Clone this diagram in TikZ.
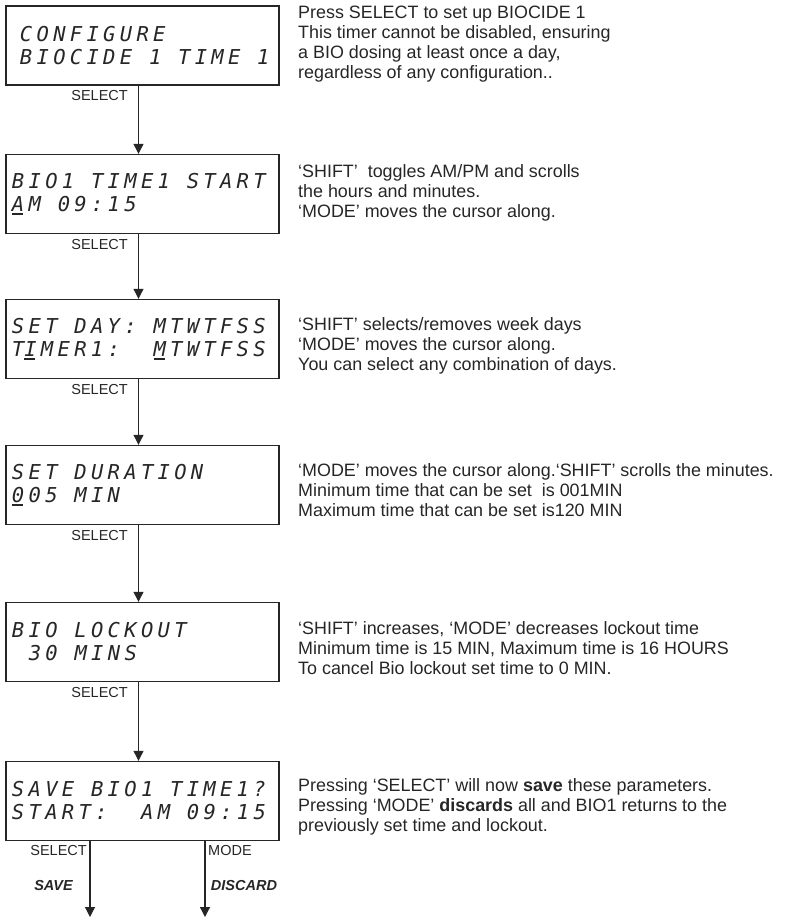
\documentclass[tikz,border=0pt]{standalone}
\usepackage{fontspec}
\setmainfont{Liberation Sans}
\newfontfamily\lcdfont[LetterSpace=21]{DejaVu Sans Mono}
\usetikzlibrary{arrows.meta}
\definecolor{ink}{HTML}{262626}
\newcommand{\lcdtype}{\lcdfont\itshape\fontsize{20.5}{23}\selectfont}
\newcommand{\lsp}{\hspace*{16.8pt}}
\newcommand{\lcdcur}[1]{\leavevmode\rlap{\rule[-3.5pt]{11pt}{1.6pt}}#1}

\begin{document}
\begin{tikzpicture}[x=1pt,y=-1pt,
  lcd/.style={shape=rectangle,draw=ink,line width=1.4pt,minimum width=273pt,minimum height=79pt,text width=261pt,inner xsep=6pt,align=left,text=ink,font=\lcdtype},
  note/.style={anchor=west,align=left,inner sep=0pt,text=ink,font=\fontsize{17.9}{20}\selectfont},
  key/.style={inner sep=1pt,text=ink,font=\fontsize{14.5}{16}\selectfont},
  act/.style={inner sep=1pt,text=ink,font=\fontsize{14.5}{16}\selectfont\bfseries\itshape},
  flow/.style={draw=ink,line width=1.2pt,-{Triangle[length=10pt,width=10pt]}}]
\useasboundingbox (0,0) rectangle (784,923);
% display boxes
\draw (142.5,45.5) node (lcd1) [lcd] {\hspace*{8pt}CONFIGURE\\\hspace*{8pt}BIOCIDE\lsp 1\lsp TIME\lsp 1};
\draw (142.5,194) node (lcd2) [lcd] {BIO1\lsp TIME1\lsp START\\\lcdcur{A}M\lsp 09:15};
\draw (142.5,339) node (lcd3) [lcd] {SET\lsp DAY:\lsp MTWTFSS\\T\lcdcur{I}MER1:\lsp\lsp\lcdcur{M}TWTFSS};
\draw (142.5,485) node (lcd4) [lcd] {SET\lsp DURATION\\\lcdcur{0}05\lsp MIN};
\draw (142.5,642) node (lcd5) [lcd] {BIO\lsp LOCKOUT\\\lsp 30\lsp MINS};
\draw (142.5,801) node (lcd6) [lcd] {SAVE\lsp BIO1\lsp TIME1?\\START:\lsp\lsp AM\lsp 09:15};
% notes
\draw (298,44) node (txt1) [note] {Press SELECT to set up BIOCIDE 1\\This timer cannot be disabled, ensuring\\a BIO dosing at least once a day,\\regardless of any configuration..};
\draw (298,193) node (txt2) [note] {`SHIFT'~~toggles AM/PM and scrolls\\the hours and minutes.\\`MODE' moves the cursor along.};
\draw (298,346) node (txt3) [note] {`SHIFT' selects/removes week days\\`MODE' moves the cursor along.\\You can select any combination of days.};
\draw (298,490) node (txt4) [note] {`MODE' moves the cursor along.`SHIFT' scrolls the minutes.\\Minimum time that can be set~~is 001MIN\\Maximum time that can be set is120 MIN};
\draw (298,648) node (txt5) [note] {`SHIFT' increases, `MODE' decreases lockout time\\Minimum time is 15 MIN, Maximum time is 16 HOURS\\To cancel Bio lockout set time to 0 MIN.};
\draw (298,807) node (txt6) [note] {Pressing `SELECT' will now \textbf{save} these parameters.\\Pressing `MODE' \textbf{discards} all and BIO1 returns to the\\previously set time and lockout.};
% select steps
\draw[flow] ([xshift=-4pt]lcd1.south) -- ([xshift=-4pt]lcd2.north);
\draw ([xshift=-13.5pt,yshift=-3.5pt]lcd1.south) node (sel1) [key,anchor=north east] {SELECT};
\draw[flow] ([xshift=-4pt]lcd2.south) -- ([xshift=-4pt]lcd3.north);
\draw ([xshift=-13.5pt,yshift=-3.5pt]lcd2.south) node (sel2) [key,anchor=north east] {SELECT};
\draw[flow] ([xshift=-4pt]lcd3.south) -- ([xshift=-4pt]lcd4.north);
\draw ([xshift=-13.5pt,yshift=-3.5pt]lcd3.south) node (sel3) [key,anchor=north east] {SELECT};
\draw[flow] ([xshift=-4pt]lcd4.south) -- ([xshift=-4pt]lcd5.north);
\draw ([xshift=-13.5pt,yshift=-3.5pt]lcd4.south) node (sel4) [key,anchor=north east] {SELECT};
\draw[flow] ([xshift=-4pt]lcd5.south) -- ([xshift=-4pt]lcd6.north);
\draw ([xshift=-13.5pt,yshift=-3.5pt]lcd5.south) node (sel5) [key,anchor=north east] {SELECT};
% save or discard
\coordinate (save) at (90,917);
\coordinate (discard) at (205,917);
\draw[flow] (lcd6.south -| save) -- (save);
\draw[flow] (lcd6.south -| discard) -- (discard);
\draw (88,844) node (sel6) [key,anchor=north east] {SELECT};
\draw (207,844) node (mode6) [key,anchor=north west] {MODE};
\draw (53.5,885) node (save6) [act] {SAVE};
\draw (244,885) node (discard6) [act] {DISCARD};
\end{tikzpicture}
\end{document}
